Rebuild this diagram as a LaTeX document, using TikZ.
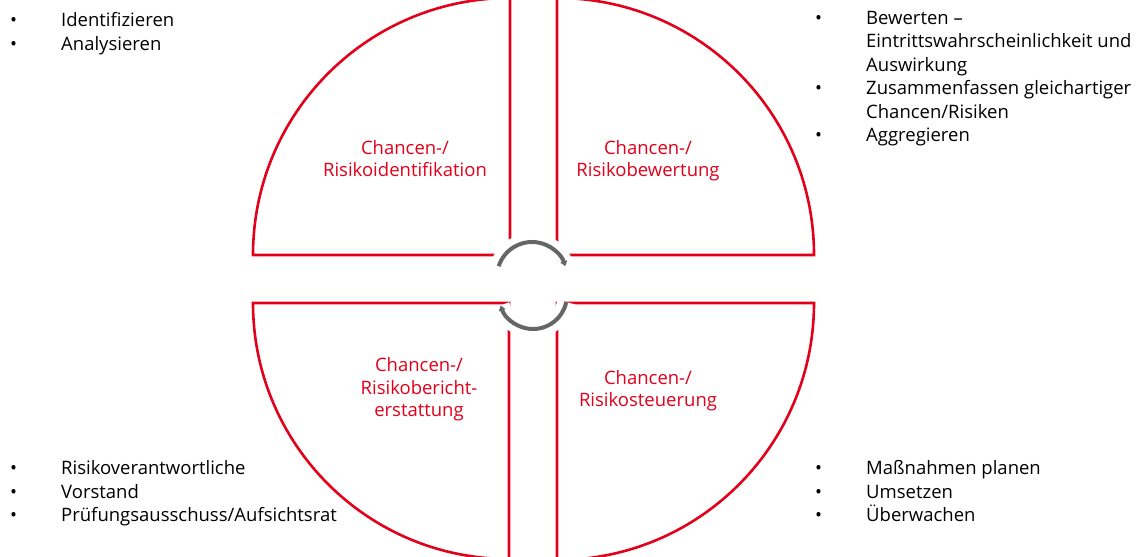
\documentclass[tikz,border=0pt]{standalone}
\usepackage{fontspec}
\setmainfont{Open Sans}
\usetikzlibrary{arrows.meta}
\definecolor{risikorot}{HTML}{E2001A}
\definecolor{pfeilgrau}{HTML}{666666}
\newcommand{\pkt}{\makebox[51pt][l]{\textbullet}}
\newcommand{\ein}{\hspace*{51pt}}

\begin{document}
\begin{tikzpicture}[x=1pt, y=1pt, >=stealth,
    viertel/.style={draw=risikorot, line width=2.6pt},
    titel/.style={text=risikorot, align=center, anchor=base, inner sep=0pt,
        font=\fontsize{18.5}{22.5}\selectfont},
    liste/.style={align=left, anchor=base west, inner sep=0pt,
        font=\fontsize{18.5}{23.5}\selectfont},
    kreis/.style={draw=pfeilgrau, line width=4pt,
        preaction={draw=white, line width=18pt, -}}]
    \useasboundingbox (0,0) rectangle (1144,557);

    % die vier Viertelkreise
    \coordinate (mol) at (510,302);
    \coordinate (mor) at (557,302);
    \coordinate (mul) at (509,254);
    \coordinate (mur) at (557,254);
    \draw[viertel] (253,302) arc (180:90:257) -- (mol) -- cycle;
    \draw[viertel] (814,302) arc (0:90:257) -- (mor) -- cycle;
    \draw[viertel] (253,254) arc (180:270:256) -- (mul) -- cycle;
    \draw[viertel] (814,254) arc (0:-90:257) -- (mur) -- cycle;

    % Kreislauf in der Mitte
    \draw[kreis, -{Triangle[length=5pt, width=7pt]}] (532,280) ++(162:35) arc (162:18:35);
    \draw[kreis, -{Triangle[length=5pt, width=7pt]}] (533,262) ++(-12:34) arc (-12:-162:34);

    % Phasen (Anker: Grundlinie der letzten Zeile)
    \node[titel] (ident)  at (405,380) {Chancen-/\\Risikoidentifikation};
    \node[titel] (bewert) at (648,380) {Chancen-/\\Risikobewertung};
    \node[titel] (bericht) at (419,140) {Chancen-/\\Risikobericht-\\erstattung};
    \node[titel] (steuer) at (648,150) {Chancen-/\\Risikosteuerung};

    % Aufgaben
    \node[liste] (ol) at (10,506.5) {\pkt Identifizieren\\ \pkt Analysieren};
    \node[liste] (or) at (815,415) {\pkt Bewerten --\\ \ein Eintrittswahrscheinlichkeit und\\
        \ein Auswirkung\\ \pkt Zusammenfassen gleichartiger\\ \ein Chancen/Risiken\\ \pkt Aggregieren};
    \node[liste] (ul) at (10,35) {\pkt Risikoverantwortliche\\ \pkt Vorstand\\
        \pkt Prüfungsausschuss/Aufsichtsrat};
    \node[liste] (ur) at (815,35) {\pkt Maßnahmen planen\\ \pkt Umsetzen\\ \pkt Überwachen};
\end{tikzpicture}
\end{document}
